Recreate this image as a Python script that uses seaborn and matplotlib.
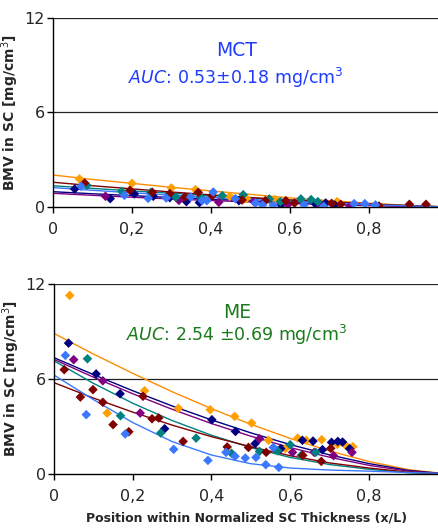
import numpy as np
import pandas as pd
import matplotlib
matplotlib.use("Agg")
import matplotlib.pyplot as plt
import seaborn as sns

# series order: orange, navy, purple, teal, dark red, light blue
names = ["orange", "navy", "purple", "teal", "darkred", "blue"]
colors = ["#ffa000", "#000080", "#800080", "#008080", "#800000", "#3c78ff"]
line_colors = ["#ff8c00", "#000080", "#800080", "#008080", "#800000", "#3c78ff"]

# fitted curve x positions
fit_x = [0.0, 0.1, 0.2, 0.3, 0.4, 0.5, 0.6, 0.7, 0.8, 0.9, 1.0]

# ---- MCT (top panel) ----
mct_fit = {
    "orange":  [2.03, 1.75, 1.50, 1.25, 1.02, 0.80, 0.58, 0.40, 0.24, 0.10, 0.0],
    "darkred": [1.57, 1.35, 1.15, 0.95, 0.77, 0.60, 0.45, 0.32, 0.20, 0.09, 0.0],
    "teal":    [1.35, 1.18, 1.02, 0.87, 0.72, 0.57, 0.43, 0.30, 0.18, 0.08, 0.0],
    "blue":    [1.23, 1.06, 0.90, 0.75, 0.61, 0.48, 0.36, 0.25, 0.15, 0.07, 0.0],
    "navy":    [0.97, 0.84, 0.72, 0.60, 0.49, 0.39, 0.29, 0.20, 0.12, 0.05, 0.0],
    "purple":  [0.87, 0.74, 0.62, 0.51, 0.41, 0.32, 0.23, 0.15, 0.09, 0.04, 0.0],
}
mct_x = {
    "orange":  [0.067, 0.2, 0.3, 0.361, 0.448, 0.49, 0.563, 0.72],
    "darkred": [0.08, 0.195, 0.252, 0.296, 0.334, 0.368, 0.403, 0.479, 0.538, 0.59,
                0.612, 0.706, 0.729, 0.826, 0.903, 0.945],
    "teal":    [0.086, 0.174, 0.248, 0.311, 0.374, 0.429, 0.482, 0.548, 0.576, 0.628,
                0.654, 0.671],
    "blue":    [0.071, 0.181, 0.241, 0.287, 0.349, 0.378, 0.406, 0.39, 0.462, 0.513,
                0.531, 0.558, 0.636, 0.686, 0.763, 0.79, 0.817],
    "navy":    [0.055, 0.145, 0.206, 0.254, 0.296, 0.338, 0.371, 0.471, 0.578, 0.664,
                0.691, 0.714],
    "purple":  [0.133, 0.319, 0.42, 0.509, 0.595, 0.679, 0.753],
}
mct_y = {
    "orange":  [1.78, 1.5, 1.21, 1.1, 0.68, 0.55, 0.47, 0.34],
    "darkred": [1.52, 1.06, 0.93, 0.85, 0.63, 0.93, 0.72, 0.44, 0.4, 0.4,
                0.25, 0.23, 0.17, 0.06, 0.17, 0.17],
    "teal":    [1.38, 0.99, 0.93, 0.63, 0.63, 0.72, 0.78, 0.51, 0.34, 0.51,
                0.47, 0.34],
    "blue":    [1.31, 0.74, 0.55, 0.57, 0.63, 0.4, 0.95, 0.4, 0.53, 0.25,
                0.13, 0.11, 0.13, 0.04, 0.21, 0.21, 0.13],
    "navy":    [1.14, 0.53, 0.83, 0.68, 0.59, 0.34, 0.28, 0.4, 0.13, 0.21,
                0.25, 0.13],
    "purple":  [0.68, 0.42, 0.3, 0.34, 0.15, 0.04, 0.04],
}

# ---- ME (bottom panel) ----
me_fit = {
    "orange":  [8.88, 7.58, 6.36, 5.20, 4.13, 3.14, 2.25, 1.46, 0.79, 0.28, 0.0],
    "navy":    [7.35, 6.28, 5.26, 4.30, 3.42, 2.60, 1.86, 1.21, 0.66, 0.23, 0.0],
    "purple":  [7.24, 6.12, 5.07, 4.09, 3.19, 2.39, 1.67, 1.06, 0.55, 0.18, 0.0],
    "teal":    [7.15, 5.73, 4.47, 3.38, 2.45, 1.67, 1.05, 0.60, 0.30, 0.08, 0.0],
    "darkred": [5.77, 4.80, 3.91, 3.09, 2.36, 1.72, 1.16, 0.70, 0.38, 0.12, 0.0],
    "blue":    [6.25, 4.70, 3.25, 2.05, 1.20, 0.65, 0.38, 0.25, 0.18, 0.10, 0.03],
}
me_x = {
    "orange":  [0.04, 0.135, 0.23, 0.316, 0.397, 0.459, 0.502, 0.545, 0.588, 0.619,
                0.641, 0.68, 0.72, 0.741, 0.759],
    "navy":    [0.037, 0.107, 0.168, 0.281, 0.401, 0.461, 0.511, 0.576, 0.631, 0.658,
                0.682, 0.705, 0.721, 0.733, 0.751],
    "purple":  [0.05, 0.124, 0.219, 0.522, 0.606, 0.661, 0.71, 0.757],
    "teal":    [0.085, 0.169, 0.271, 0.361, 0.451, 0.522, 0.568, 0.6, 0.628, 0.665],
    "darkred": [0.026, 0.067, 0.099, 0.124, 0.15, 0.19, 0.226, 0.249, 0.266, 0.328,
                0.44, 0.494, 0.539, 0.632, 0.679, 0.703],
    "blue":    [0.029, 0.082, 0.181, 0.304, 0.391, 0.437, 0.46, 0.486, 0.513, 0.538,
                0.557, 0.571],
}
me_y = {
    "orange":  [11.28, 3.85, 5.26, 4.15, 4.06, 3.64, 3.22, 2.13, 1.6, 2.27,
                2.13, 2.17, 1.87, 1.81, 1.73],
    "navy":    [8.27, 6.32, 5.07, 2.86, 3.43, 2.69, 1.92, 1.6, 2.13, 2.08,
                1.54, 2.0, 2.06, 2.02, 1.6],
    "purple":  [7.22, 5.89, 3.85, 2.23, 1.37, 1.37, 1.16, 1.37],
    "teal":    [7.28, 3.68, 2.59, 2.27, 1.31, 1.43, 1.47, 1.85, 1.18, 1.37],
    "darkred": [6.59, 4.86, 5.33, 4.53, 3.12, 2.67, 4.91, 3.49, 3.54, 2.06,
                1.71, 1.68, 1.37, 1.18, 0.8, 1.62],
    "blue":    [7.49, 3.75, 2.53, 1.56, 0.86, 1.37, 1.12, 1.01, 1.05, 0.59,
                1.68, 0.42],
}

x_ticks = [0, 0.2, 0.4, 0.6, 0.8]
x_ticklabels = ["0", "0,2", "0,4", "0,6", "0,8"]
y_ticks = [0, 6, 12]


def long_frame(xd, yd):
    rows = []
    for n in names:
        for xv, yv in zip(xd[n], yd[n]):
            rows.append((n, xv, yv))
    return pd.DataFrame(rows, columns=["series", "x", "y"])


def fit_frame(fd):
    rows = []
    for n in names:
        for xv, yv in zip(fit_x, fd[n]):
            rows.append((n, xv, yv))
    return pd.DataFrame(rows, columns=["series", "x", "y"])


sns.set_style("white")
plt.rcParams["font.family"] = ["DejaVu Sans"]

fig = plt.figure(figsize=(4.39, 5.31), dpi=100)
ax1 = fig.add_axes([0.1207, 0.6102, 0.8793, 0.356])
ax2 = fig.add_axes([0.1230, 0.1073, 0.8770, 0.3578])

pal_pts = dict(zip(names, colors))
pal_lin = dict(zip(names, line_colors))

for ax, fd, xd, yd in [(ax1, mct_fit, mct_x, mct_y), (ax2, me_fit, me_x, me_y)]:
    ax.set_xlim(0, 0.978)
    ax.set_ylim(0, 12)
    for yv in [6, 12]:
        ax.axhline(yv, color="#222222", lw=0.9, zorder=0)
    sns.lineplot(data=fit_frame(fd), x="x", y="y", hue="series", palette=pal_lin,
                 lw=1.0, legend=False, ax=ax, zorder=2)
    sns.scatterplot(data=long_frame(xd, yd), x="x", y="y", hue="series",
                    palette=pal_pts, marker="D", s=24, linewidth=0,
                    legend=False, ax=ax, zorder=3)
    ax.set_xticks(x_ticks)
    ax.set_xticklabels(x_ticklabels, fontsize=11.5)
    ax.set_yticks(y_ticks)
    ax.set_yticklabels([str(v) for v in y_ticks], fontsize=11.5)
    ax.tick_params(axis="both", direction="out", length=4, width=1, color="black",
                   left=True, bottom=True)
    ax.tick_params(axis="x", pad=7)
    ax.tick_params(axis="y", pad=2)
    for side in ["top", "right"]:
        ax.spines[side].set_visible(False)
    for side in ["left", "bottom"]:
        ax.spines[side].set_color("black")
        ax.spines[side].set_linewidth(1.0)
    ax.set_ylabel("BMV in SC [mg/cm$^3$]", fontsize=10, fontweight="bold")
    ax.yaxis.set_label_coords(-0.082, 0.5)
    ax.set_xlabel("")

ax2.set_xlabel("Position within Normalized SC Thickness (x/L)", fontsize=9,
               fontweight="bold", labelpad=5)

ax1.text(0.475, 0.83, "MCT", transform=ax1.transAxes, ha="center", va="center",
         color="#1f3cff", fontsize=13.5)
ax1.text(0.475, 0.68, r"$\mathit{AUC}$: 0.53$\pm$0.18 mg/cm$^3$",
         transform=ax1.transAxes, ha="center", va="center", color="#1f3cff",
         fontsize=12.5)
ax2.text(0.475, 0.85, "ME", transform=ax2.transAxes, ha="center", va="center",
         color="#1b7a1b", fontsize=13.5)
ax2.text(0.475, 0.73, r"$\mathit{AUC}$: 2.54 $\pm$0.69 mg/cm$^3$",
         transform=ax2.transAxes, ha="center", va="center", color="#1b7a1b",
         fontsize=12.5)

fig.savefig("out.png", dpi=100)
